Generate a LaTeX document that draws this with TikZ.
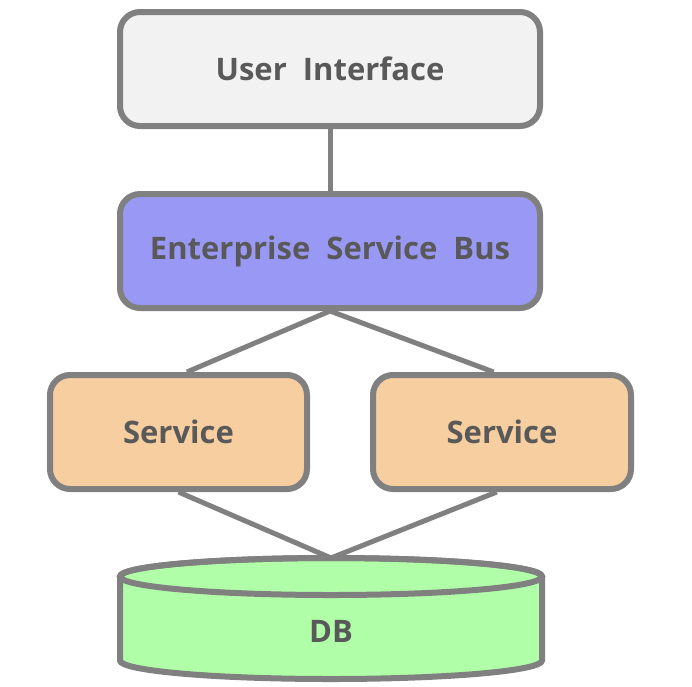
\documentclass[tikz,border=0pt]{standalone}
\usepackage{fontspec}
\setmainfont{Open Sans}
\usepackage{tikz}

\definecolor{edgegray}{HTML}{808080}
\definecolor{textgray}{HTML}{595959}
\definecolor{uifill}{HTML}{F2F2F2}
\definecolor{busfill}{HTML}{9999F5}
\definecolor{svcfill}{HTML}{F6CEA0}
\definecolor{dbfill}{HTML}{B0FFA8}

\begin{document}
\begin{tikzpicture}[x=1pt, y=-1pt,
   box/.style={draw=edgegray, line width=6pt, rounded corners=20pt,
      minimum height=114pt, text=textgray, inner sep=0pt,
      font=\fontsize{31}{35}\selectfont\bfseries},
   link/.style={draw=edgegray, line width=5pt}]
   \useasboundingbox (0,0) rectangle (692,686);
   \node[box, fill=uifill, minimum width=420pt] (ui) at (330,69) {User\ \ Interface};
   \node[box, fill=busfill, minimum width=420pt] (esb) at (330,251) {Enterprise\ \ Service\ \ Bus};
   \node[box, fill=svcfill, minimum width=257pt] (svcl) at (178.5,432) {Service};
   \node[box, fill=svcfill, minimum width=258pt] (svcr) at (502,432) {Service};
   \filldraw[draw=edgegray, fill=dbfill, line width=6pt]
      (120,576.5) -- (120,660.5) arc[start angle=180, end angle=0, x radius=211, y radius=18.5]
      -- (542,576.5) arc[start angle=0, end angle=-180, x radius=211, y radius=18.5] -- cycle;
   \draw[draw=edgegray, line width=6pt] (331,576.5) ellipse[x radius=211, y radius=18.5];
   \node[text=textgray, font=\fontsize{31}{35}\selectfont\bfseries] (db) at (331,631) {DB};
   \coordinate (dbtop) at (331,558);
   \draw[link] (ui.south) -- (esb.north);
   \draw[link] (esb.south) -- (svcl.82);
   \draw[link] (esb.south) -- (svcr.98);
   \draw[link] (svcl.south) -- (dbtop);
   \draw[link] (svcr.-95) -- (dbtop);
\end{tikzpicture}
\end{document}
